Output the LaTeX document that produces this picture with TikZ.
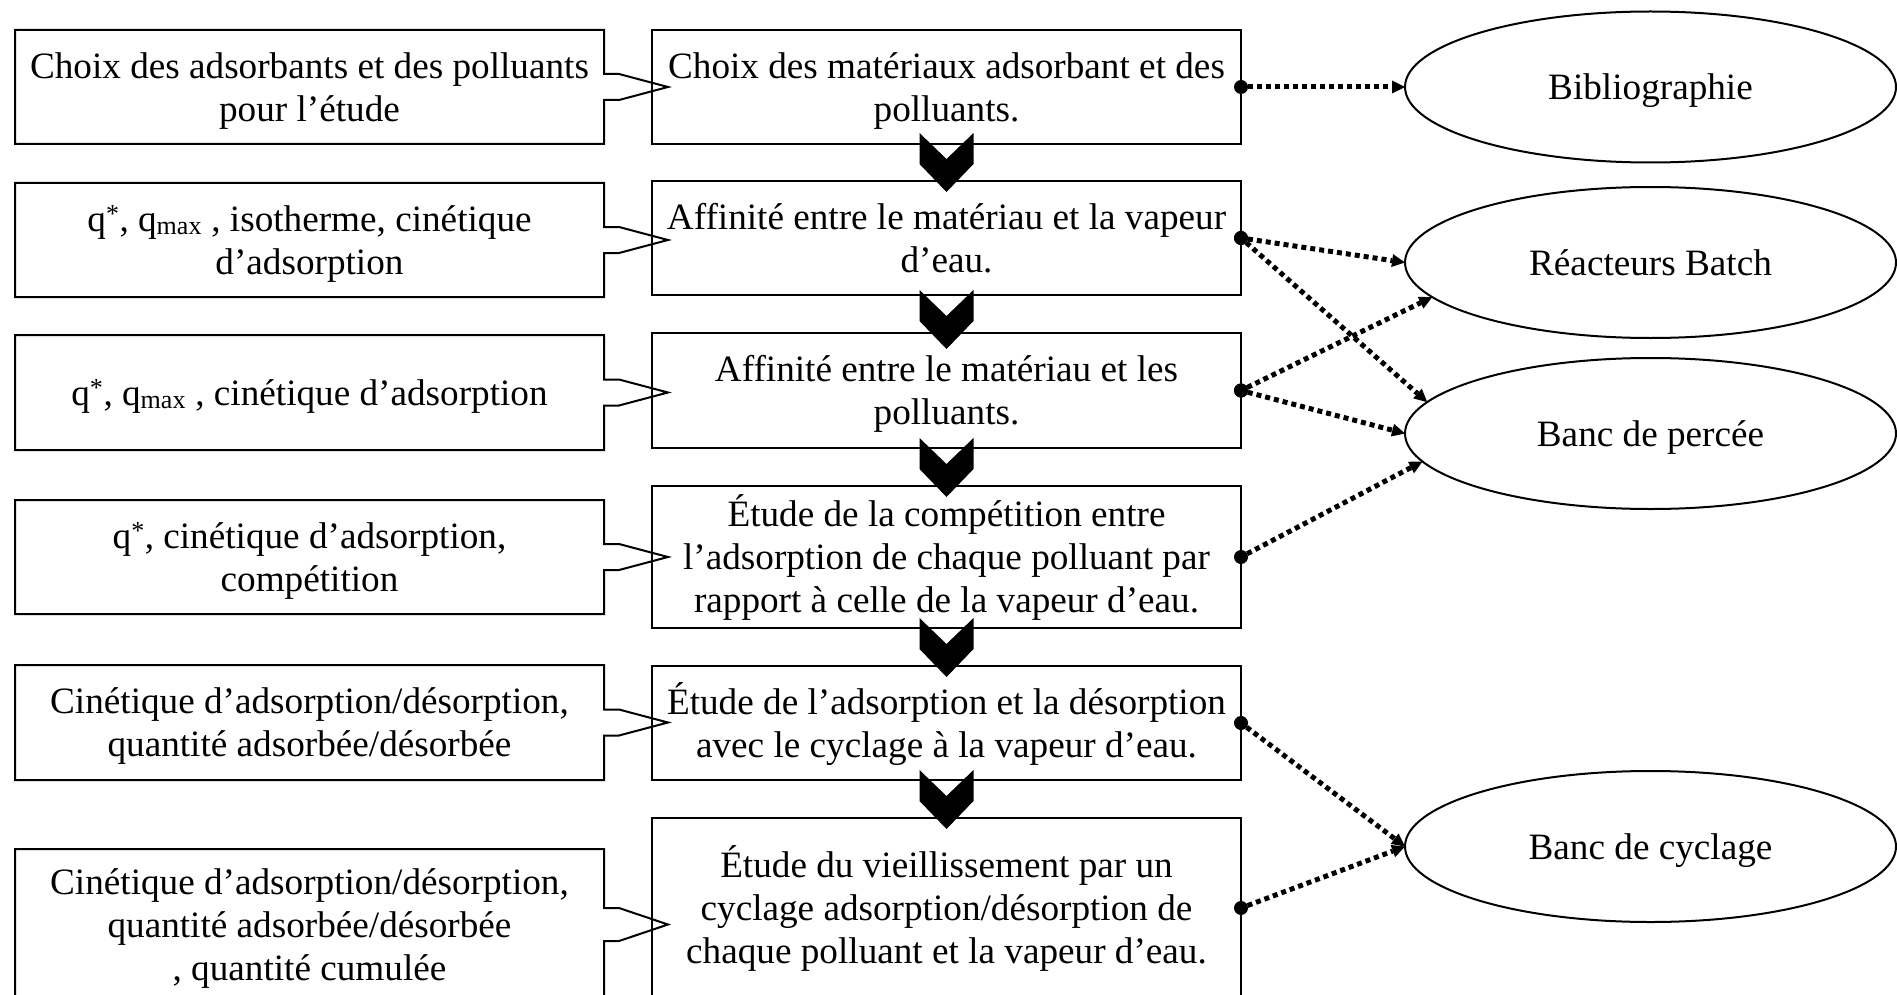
\documentclass[tikz,border=0pt]{standalone}
\usepackage{fontspec}
\setmainfont{Liberation Serif}
\usetikzlibrary{arrows.meta,calc,shapes.geometric}
\newcommand\drawcallout[2]{%
  \draw[outl] ($(#1.east)+(0,-#2)$) -- (#1.north east) -- (#1.north west) -- (#1.south west) -- (#1.south east)
    -- ($(#1.east)+(0,#2)$) -- ($(#1.east)+(15,#2)$) -- ($(#1.east)+(64,0)$) -- ($(#1.east)+(15,-#2)$) -- cycle;}
\newcommand\tst{\rule{0pt}{33.1pt}}
\newcommand\bst{\rule[-8pt]{0pt}{8pt}}
\begin{document}
\begin{tikzpicture}[x=1pt,y=-1pt,
  txt/.style={font=\fontsize{37.2}{43}\selectfont, align=center, inner sep=0pt, outer sep=0pt},
  box/.style={txt, draw, line width=2pt, minimum width=589pt},
  lbox/.style={txt, minimum width=589pt},
  outl/.style={line width=2pt, line join=miter},
  ell/.style={txt, draw, ellipse, line width=2pt, minimum width=491pt, minimum height=151pt},
  link/.style={line width=5pt, dash pattern=on 5pt off 4pt, shorten <=-7pt,
     {Circle[length=14pt,width=14pt,line width=0pt]}-{Triangle[length=13pt,width=13pt,line width=0pt]}},
  chev/.pic={\fill (-27,0) -- (0,26) -- (27,0) -- (27,31) -- (0,59) -- (-27,31) -- cycle;}
]
\useasboundingbox (0,0) rectangle (1897,995);

% middle column
\node[box, minimum height=114pt] (m1) at (946.5,87) {\tst Choix des matériaux adsorbant et des\\polluants.\bst};
\node[box, minimum height=114pt] (m2) at (946.5,238) {\tst Affinité entre le matériau et la vapeur\\d’eau.\bst};
\node[box, minimum height=115pt] (m3) at (946.5,390.5) {\tst Affinité entre le matériau et les\\polluants.\bst};
\node[box, minimum height=142pt] (m4) at (946.5,557) {\tst Étude de la compétition entre\\l’adsorption de chaque polluant par\\rapport à celle de la vapeur d’eau.\bst};
\node[box, minimum height=114pt] (m5) at (946.5,723) {\tst Étude de l’adsorption et la désorption\\avec le cyclage à la vapeur d’eau.\bst};
\node[box, minimum height=180pt] (m6) at (946.5,908) {\tst Étude du vieillissement par un\\cyclage adsorption/désorption de\\chaque polluant et la vapeur d’eau.\bst};

% left column
\node[lbox, minimum height=114pt] (l1) at (309.5,87) {\tst Choix des adsorbants et des polluants\\pour l’étude\bst};
\node[lbox, minimum height=114pt] (l2) at (309.5,240) {\tst q\textsuperscript{*}, q\textsubscript{max} , isotherme, cinétique\\d’adsorption\bst};
\node[lbox, minimum height=115pt] (l3) at (309.5,392.5) {\tst q\textsuperscript{*}, q\textsubscript{max} , cinétique d’adsorption\bst};
\node[lbox, minimum height=114pt] (l4) at (309.5,557) {\tst q\textsuperscript{*}, cinétique d’adsorption,\\compétition\bst};
\node[lbox, minimum height=115pt] (l5) at (309.5,722.5) {\tst Cinétique d’adsorption/désorption,\\quantité adsorbée/désorbée\bst};
\node[lbox, minimum height=151pt] (l6) at (309.5,924.5) {\tst Cinétique d’adsorption/désorption,\\quantité adsorbée/désorbée\\, quantité cumulée\bst};
\drawcallout{l1}{13}
\drawcallout{l2}{13}
\drawcallout{l3}{13}
\drawcallout{l4}{13}
\drawcallout{l5}{13}
\drawcallout{l6}{16.5}

% chevrons
\pic at ($(m1.south)+(0,-11)$) {chev};
\pic at ($(m2.south)+(0,-5)$) {chev};
\pic at ($(m3.south)+(0,-10)$) {chev};
\pic at ($(m4.south)+(0,-10)$) {chev};
\pic at ($(m5.south)+(0,-10)$) {chev};

% ellipses
\node[ell] (bib) at (1650.5,87) {\tst Bibliographie\bst};
\node[ell] (bat) at (1650.5,262.5) {\tst Réacteurs Batch\bst};
\node[ell] (per) at (1650.5,433.5) {\tst Banc de percée\bst};
\node[ell] (cyc) at (1650.5,846.5) {\tst Banc de cyclage\bst};

% links
\draw[link] (m1.east) -- (bib.west);
\draw[link] (m2.east) -- (bat.west);
\draw[link] (m2.east) -- (per.172);
\draw[link] (m3.east) -- (bat.189);
\draw[link] (m3.east) -- (per.west);
\draw[link] (m4.east) -- (per.187);
\draw[link] (m5.east) -- (cyc.west);
\draw[link] (m6.east) -- (cyc.west);
\end{tikzpicture}
\end{document}
